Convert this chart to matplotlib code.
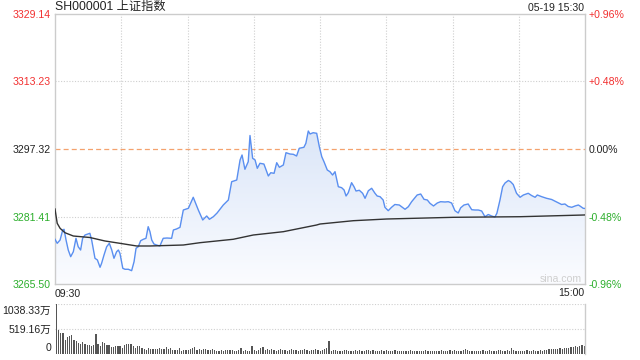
import numpy as np
import matplotlib
matplotlib.use("Agg")
import matplotlib.pyplot as plt
from matplotlib.colors import LinearSegmentedColormap

plt.rcParams['font.family'] = ['Liberation Sans', 'Noto Sans CJK SC', 'DejaVu Sans']

# price line (minutes after 09:30, index points)
price_min = [0, 1.0, 2.3, 3.5, 4.1, 5.0, 6.0, 7.1, 8.3, 9.5, 10.5, 11.6, 12.5, 13.6, 14.6,
             15.8, 16.6, 17.3, 18.1, 19.2, 20.4, 21.1, 22.2, 23.4, 24.6, 25.7, 26.7, 27.9,
             28.7, 29.4, 30.7, 31.7, 33.2, 34.7, 35.8, 36.7, 37.7, 38.8, 40.0, 41.2, 42.2,
             43.0, 43.8, 44.8, 46.0, 47.5, 49.0, 50.7, 52.8, 53.6, 55.0, 56.6, 58.1, 60.4,
             62.6, 64.9, 66.9, 68.7, 69.9, 71.7, 73.4, 74.7, 76.2, 78.5, 80.0, 82.3, 83.8,
             84.7, 86.0, 87.5, 88.3, 89.5, 90.6, 91.6, 92.8, 94.6, 96.6, 97.7, 99.2, 100.4,
             101.6, 103.4, 104.6, 106.4, 107.9, 109.4, 110.6, 112.7, 113.6, 114.7, 115.5,
             116.9, 118.5, 119.7, 120.8, 121.8, 123.3, 124.5, 125.7, 126.8, 128.3, 129.8,
             130.9, 131.8, 132.8, 134.3, 135.4, 136.3, 137.8, 139.3, 140.4, 141.9, 143.4,
             144.9, 145.9, 147.2, 148.6, 149.4, 150.9, 152.4, 153.9, 155.9, 158.5, 160.0,
             161.5, 164.0, 165.6, 167.1, 168.6, 169.8, 171.4, 173.1, 174.6, 176.6, 178.1,
             179.6, 181.1, 182.6, 183.7, 185.2, 187.1, 188.7, 190.2, 191.7, 193.2, 194.7,
             196.2, 197.7, 199.2, 200.1, 201.5, 202.7, 203.8, 205.3, 206.3, 207.5, 209.0,
             210.6, 212.1, 214.3, 215.8, 217.4, 218.4, 220.4, 222.6, 224.9, 227.2, 229.4,
             230.9, 232.4, 234.0, 235.5, 237.0, 237.7, 239.2, 240]
price = [3276.04, 3275.09, 3275.87, 3278.23, 3278.39, 3275.87, 3273.51, 3271.94, 3273.11,
         3276.27, 3274.29, 3273.51, 3276.27, 3277.05, 3277.22, 3277.45, 3275.87, 3273.92,
         3271.56, 3271.16, 3269.44, 3270.38, 3272.34, 3274.29, 3275.09, 3273.51, 3271.56,
         3273.11, 3273.51, 3272.74, 3269.20, 3268.97, 3268.97, 3268.64, 3270.76, 3273.92,
         3274.29, 3275.71, 3276.04, 3276.27, 3279.01, 3277.83, 3275.87, 3274.93, 3274.69,
         3274.46, 3276.27, 3276.34, 3276.27, 3278.23, 3278.46, 3278.86, 3282.94, 3283.34,
         3285.94, 3282.94, 3280.59, 3281.53, 3280.75, 3281.36, 3282.24, 3283.11, 3284.12,
         3285.30, 3289.61, 3290.01, 3294.73, 3295.91, 3292.54, 3294.33, 3300.50, 3295.13,
         3294.73, 3292.77, 3293.95, 3293.78, 3290.96, 3291.73, 3291.59, 3294.09, 3293.01,
         3293.55, 3296.45, 3296.14, 3296.07, 3295.67, 3297.49, 3297.72, 3298.66, 3301.56,
         3300.86, 3301.16, 3301.02, 3297.86, 3295.51, 3294.33, 3292.37, 3291.97, 3291.19,
         3291.97, 3288.43, 3288.20, 3287.66, 3286.24, 3287.02, 3289.38, 3288.43, 3287.42,
         3287.59, 3286.88, 3285.70, 3287.49, 3288.06, 3286.88, 3286.24, 3286.08, 3285.30,
         3283.58, 3282.78, 3283.58, 3284.24, 3284.12, 3283.11, 3283.72, 3284.90, 3286.48,
         3286.71, 3285.46, 3285.30, 3284.52, 3283.89, 3284.59, 3284.90, 3284.83, 3284.90,
         3284.59, 3282.78, 3282.24, 3283.46, 3284.12, 3284.36, 3283.01, 3282.94, 3282.94,
         3282.71, 3281.36, 3281.88, 3281.53, 3281.29, 3282.17, 3285.30, 3288.43, 3289.31,
         3289.90, 3289.61, 3288.95, 3286.88, 3285.94, 3286.48, 3286.88, 3286.36, 3285.94,
         3286.48, 3286.08, 3285.70, 3285.42, 3284.83, 3284.24, 3284.36, 3283.77, 3283.58,
         3283.89, 3284.12, 3283.89, 3283.34, 3283.30]

# average price line
avg_min = [0, 1.0, 2.3, 4.5, 8.3, 15.8, 22.6, 29.4, 37.0, 43.0, 58.1, 65.7, 80.7, 89.8,
           103.4, 118.5, 120, 135.1, 150.2, 180.4, 210.6, 239.2, 240]
avg_price = [3283.18, 3279.81, 3278.63, 3277.59, 3276.81, 3276.46, 3275.64, 3275.09,
             3274.46, 3274.46, 3274.69, 3275.24, 3276.04, 3277.05, 3277.83, 3279.41,
             3279.64, 3280.42, 3280.82, 3281.22, 3281.36, 3281.76, 3281.78]

# volume per minute (万)
volume = [1038, 495, 440, 440, 300, 355, 370, 390, 300, 265, 230, 215, 250, 215, 195, 195,
          160, 195, 425, 215, 160, 250, 230, 195, 195, 146, 146, 175, 175, 160, 125, 195,
          215, 215, 215, 175, 125, 160, 160, 125, 105, 90, 125, 105,
          105, 105, 105, 125, 105, 105, 140, 105, 125, 90, 90, 90, 125, 70, 90, 90, 90, 105,
          125, 140, 90, 105, 90, 105, 105, 90, 90, 105, 90, 70, 56, 90, 56, 90, 90, 90, 90,
          56, 70, 90, 125, 56, 90, 70, 56, 160, 90, 56, 90, 125, 140,
          90, 105, 90, 105, 90, 70, 90, 105, 90, 90, 70, 90, 105, 90, 90, 70, 90, 90, 105, 90,
          70, 90, 90, 105, 90, 70, 90, 105, 125, 280,
          70, 90, 85, 70, 55, 70, 85, 90, 70, 55, 70, 90, 70, 85, 70, 55, 85, 90, 70, 85,
          70, 55, 70, 85, 70, 90, 55, 70, 70, 85, 70, 55, 70, 70, 55, 70, 85, 70, 55, 70,
          70, 55, 70, 85, 70, 55, 70, 70, 55, 70, 85, 70, 55, 70, 85, 70, 90, 70, 55, 70,
          85, 110, 90, 70, 55, 70, 70, 55, 70, 85, 70, 70, 85, 70, 55, 70, 90, 85, 70, 70,
          85, 70, 130, 85, 55, 70, 70, 55, 70, 85, 70, 70, 85, 70, 70, 85, 70, 90, 85, 100,
          100, 110, 100, 110, 120, 110, 120, 130, 120, 140, 150, 160, 140, 170, 180, 160,
          25, 20, 30, 360]

prev_close = 3297.32
y_ticks = [3265.50, 3281.41, 3297.32, 3313.23, 3329.14]
pct_labels = ['-0.96%', '-0.48%', '0.00%', '+0.48%', '+0.96%']
vol_max = 1038.33

RED = '#f23030'
GREEN = '#2bae2b'
GRID = '#cfcfcf'
W, H = 640, 360


def fx(px):
    return px / W


def fy(py):
    return 1 - py / H


fig = plt.figure(figsize=(6.4, 3.6), dpi=100)
ax = fig.add_axes([fx(55), fy(284), 530 / W, 270 / H])
ax.set_xlim(0, 240)
ax.set_ylim(y_ticks[0], y_ticks[-1])

# gradient fill under the price line
cmap = LinearSegmentedColormap.from_list('fill', ['#fbfcff', '#dbe6f8'])
poly = ax.fill_between(price_min, price, y_ticks[0], color='none', lw=0)
grad = np.linspace(0, 1, 256).reshape(-1, 1)
im = ax.imshow(grad, cmap=cmap, aspect='auto', origin='lower',
               extent=[0, 240, y_ticks[0], max(price)], zorder=1)
path = poly.get_paths()[0]
im.set_clip_path(path, transform=ax.transData)

for m in range(30, 240, 30):
    ax.axvline(m, color=GRID, lw=0.8, ls=(0, (1, 1.5)), zorder=0.5)
for v in y_ticks[1:-1]:
    if v == prev_close:
        ax.axhline(v, color='#f4a26e', lw=0.9, ls=(0, (4, 2.5)), zorder=0.5)
    else:
        ax.axhline(v, color=GRID, lw=0.8, ls=(0, (1, 1.5)), zorder=0.5)

ax.plot(price_min, price, color='#5a8ff0', lw=1.0, zorder=3)
ax.plot(avg_min, avg_price, color='#333333', lw=1.0, zorder=3)

ax.set_xticks([])
ax.set_yticks([])
for s in ax.spines.values():
    s.set_color('#cccccc')
    s.set_linewidth(1.0)

# left / right axis labels
for i, v in enumerate(y_ticks):
    c = RED if v > prev_close else (GREEN if v < prev_close else '#222222')
    ypix = 284 - (v - y_ticks[0]) / (y_ticks[-1] - y_ticks[0]) * 270
    fig.text(fx(51), fy(ypix + 1), f'{v:.2f}', color=c, fontsize=7.6, ha='right', va='center')
    fig.text(fx(589), fy(ypix + 1), pct_labels[i], color=c, fontsize=7.6, ha='left', va='center')

fig.text(fx(55), fy(7), 'SH000001 上证指数', fontsize=8.8, ha='left', va='center', color='#222222')
fig.text(fx(584), fy(8), '05-19 15:30', fontsize=7.6, ha='right', va='center', color='#222222')
fig.text(fx(55), fy(294), '09:30', fontsize=7.6, ha='left', va='center', color='#222222')
fig.text(fx(584), fy(293), '15:00', fontsize=7.6, ha='right', va='center', color='#222222')
fig.text(fx(582), fy(279), 'sina.com', fontsize=7.6, ha='right', va='center', color='#cfcfcf')

# volume panel
vax = fig.add_axes([fx(55), fy(354), 530 / W, 50 / H])
vax.bar(np.arange(len(volume)), volume, width=0.55, color='#555555', lw=0)
vax.set_xlim(-0.6, 240.4)
vax.set_ylim(0, vol_max)
vax.axhline(vol_max, color=GRID, lw=0.8, ls=(0, (1, 1.5)), zorder=0)
vax.axhline(vol_max / 2, color=GRID, lw=0.8, ls=(0, (1, 1.5)), zorder=0)
vax.set_xticks([])
vax.set_yticks([])
for k in ['top', 'left', 'bottom']:
    vax.spines[k].set_visible(False)
vax.spines['right'].set_color('#cccccc')
vax.spines['right'].set_linewidth(1.0)

fig.text(fx(51), fy(311), '1038.33万', fontsize=7.6, ha='right', va='center', color='#222222')
fig.text(fx(51), fy(330), '519.16万', fontsize=7.6, ha='right', va='center', color='#222222')
fig.text(fx(51), fy(348), '0', fontsize=7.6, ha='right', va='center', color='#222222')

fig.savefig('out.png', dpi=100)
